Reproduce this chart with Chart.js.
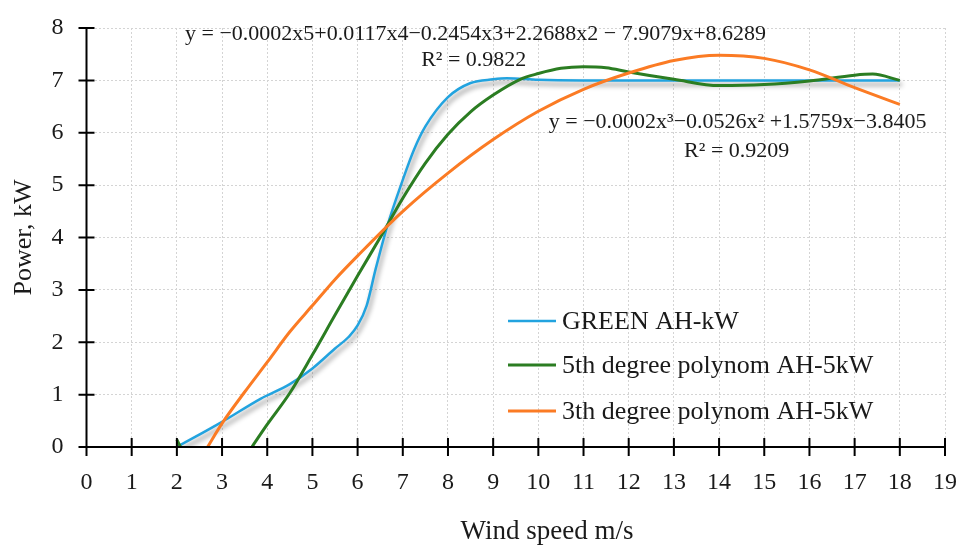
<!DOCTYPE html>
<html>
<head>
<meta charset="utf-8">
<script src="https://cdn.jsdelivr.net/npm/chart.js@4"></script>
<style>
  html, body { margin: 0; padding: 0; background: #fff; }
  #box { width: 965px; height: 545px; }
</style>
</head>
<body>
<div id="box"><canvas id="potencia"></canvas></div>
<script>
// measured power curve
const xGreen = [2, 3, 3.85, 4.5, 5, 5.5, 5.8, 6, 6.2, 6.4, 6.65, 7, 7.25, 7.5, 8, 8.5, 9, 9.3, 10, 11, 12, 13, 14, 15, 16, 17, 18];
const yGreen = [0, 0.48, 0.92, 1.2, 1.5, 1.88, 2.1, 2.32, 2.7, 3.4, 4.2, 5.1, 5.68, 6.12, 6.68, 6.95, 7.02, 7.04, 7.01, 7, 7, 7, 7, 7, 7, 7, 7];

// 5th degree fit (null = below zero, hidden)
const xPoly5 = [2, 2.08, 2.5, 3.66, 4, 4.5, 5, 5.5, 6, 6.5, 7, 7.5, 8, 8.5, 9, 9.6, 10, 10.5, 11, 11.5, 12, 13, 14, 15, 16, 17, 17.4, 18];
const yPoly5 = [0.14, 0, null, 0, 0.43, 1.03, 1.76, 2.52, 3.27, 4.0, 4.75, 5.42, 5.97, 6.4, 6.72, 7.02, 7.13, 7.23, 7.26, 7.24, 7.16, 7.02, 6.9, 6.92, 6.99, 7.1, 7.12, 7.0];

// 3rd degree fit
const xPoly3 = [2.68, 3, 3.5, 4, 4.5, 5, 5.5, 6, 7, 8, 9, 10, 11, 12, 13, 14, 15, 16, 17, 18];
const yPoly3 = [0, 0.45, 1.05, 1.62, 2.2, 2.7, 3.2, 3.65, 4.5, 5.23, 5.87, 6.41, 6.83, 7.14, 7.38, 7.48, 7.42, 7.2, 6.86, 6.54];

const seriesNames = ["GREEN AH-kW", "5th degree polynom AH-5kW", "3th degree polynom AH-5kW"];
const xTicks = [0, 19];
const yTicks = [0, 8];

const eq5 = ["y = \u22120.0002x5+0.0117x4\u22120.2454x3+2.2688x2 \u2212 7.9079x+8.6289", "R\u00b2 = 0.9822"];
const eq3 = ["y = \u22120.0002x\u00b3\u22120.0526x\u00b2 +1.5759x\u22123.8405", "R\u00b2 = 0.9209"];
const xTitle = "Wind speed m/s";
const yTitle = "Power, kW";

const serif = "'Liberation Serif', 'Times New Roman', serif";
const ink = "#1a1a1a";

function pts(xs, ys) {
  return xs.map((x, i) => ({ x: x, y: ys[i] }));
}

// excel-like drop shadow under the measured curve
const sombra = {
  id: "sombra",
  beforeDatasetDraw(chart, args) {
    if (args.index !== 0) return;
    const ctx = chart.ctx;
    ctx.save();
    ctx.shadowColor = "rgba(0,0,0,0.45)";
    ctx.shadowBlur = 5;
    ctx.shadowOffsetX = 2;
    ctx.shadowOffsetY = 4;
  },
  afterDatasetDraw(chart, args) {
    if (args.index !== 0) return;
    chart.ctx.restore();
  }
};

// black axes with ticks crossing the line
const ejes = {
  id: "ejes",
  afterDraw(chart) {
    const ctx = chart.ctx;
    const { left, right, top, bottom } = chart.chartArea;
    const sx = chart.scales.x, sy = chart.scales.y;
    ctx.save();
    ctx.strokeStyle = "#000";
    ctx.lineWidth = 2;
    ctx.beginPath();
    ctx.moveTo(left, top);
    ctx.lineTo(left, bottom);
    ctx.moveTo(left, bottom);
    ctx.lineTo(right, bottom);
    sy.ticks.forEach(t => {
      const y = sy.getPixelForValue(t.value);
      ctx.moveTo(left - 8, y);
      ctx.lineTo(left + 8, y);
    });
    sx.ticks.forEach(t => {
      const x = sx.getPixelForValue(t.value);
      ctx.moveTo(x, bottom - 9);
      ctx.lineTo(x, bottom + 9);
    });
    ctx.stroke();
    ctx.restore();
  }
};

// trend equations, legend box and x title
const textos = {
  id: "textos",
  afterDraw(chart) {
    const ctx = chart.ctx;
    const sx = chart.scales.x, sy = chart.scales.y;
    ctx.save();
    ctx.fillStyle = ink;
    ctx.textAlign = "center";
    ctx.textBaseline = "alphabetic";
    ctx.font = "22px " + serif;
    ctx.fillText(eq5[0], sx.getPixelForValue(8.61), sy.getPixelForValue(7.77));
    ctx.fillText(eq5[1], sx.getPixelForValue(8.57), sy.getPixelForValue(7.27));
    ctx.fillText(eq3[0], sx.getPixelForValue(14.41), sy.getPixelForValue(6.09));
    ctx.fillText(eq3[1], sx.getPixelForValue(14.39), sy.getPixelForValue(5.54));

    // legend
    ctx.font = "26px " + serif;
    ctx.textAlign = "left";
    ctx.textBaseline = "middle";
    const lx = 508, rows = [321, 365, 411];
    chart.data.datasets.forEach((ds, i) => {
      ctx.strokeStyle = ds.borderColor;
      ctx.lineWidth = ds.borderWidth;
      ctx.beginPath();
      ctx.moveTo(lx, rows[i]);
      ctx.lineTo(lx + 48, rows[i]);
      ctx.stroke();
      ctx.fillStyle = ink;
      ctx.fillText(ds.label, lx + 54, rows[i] + 1);
    });

    ctx.font = "27px " + serif;
    ctx.textAlign = "center";
    ctx.textBaseline = "alphabetic";
    ctx.fillText(xTitle, 547, 539);
    ctx.restore();
  }
};

new Chart(document.getElementById("potencia"), {
  type: "scatter",
  data: {
    datasets: [
      {
        label: seriesNames[0],
        data: pts(xGreen, yGreen),
        borderColor: "#22a3df",
        borderWidth: 2.5,
        order: 3
      },
      {
        label: seriesNames[1],
        data: pts(xPoly5, yPoly5),
        borderColor: "#2b7d22",
        borderWidth: 3,
        order: 2
      },
      {
        label: seriesNames[2],
        data: pts(xPoly3, yPoly3),
        borderColor: "#fb7b24",
        borderWidth: 3,
        order: 1
      }
    ]
  },
  options: {
    responsive: true,
    maintainAspectRatio: false,
    animation: false,
    showLine: true,
    spanGaps: false,
    elements: {
      point: { radius: 0, hoverRadius: 0 },
      line: { cubicInterpolationMode: "monotone", fill: false }
    },
    layout: { padding: { left: 0, right: 20, top: 28, bottom: 0 } },
    plugins: {
      legend: { display: false },
      tooltip: { enabled: false }
    },
    scales: {
      x: {
        type: "linear",
        min: xTicks[0],
        max: xTicks[1],
        // fixed band under the plot, no extra side padding for the labels
        afterFit: s => { s.height = 98; s.paddingLeft = 0; s.paddingRight = 0; },
        ticks: { stepSize: 1, padding: 21, color: ink, font: { family: serif, size: 24 } },
        grid: { color: "#d4d4d4", drawTicks: false },
        border: { display: false, dash: [2, 2] }
      },
      y: {
        min: yTicks[0],
        max: yTicks[1],
        afterFit: s => { s.width = 86.5; s.paddingTop = 0; s.paddingBottom = 0; },
        ticks: { stepSize: 1, padding: 23, color: ink, font: { family: serif, size: 24 } },
        grid: { color: "#d4d4d4", drawTicks: false },
        border: { display: false, dash: [2, 2] },
        title: {
          display: true,
          text: yTitle,
          color: ink,
          font: { family: serif, size: 26 },
          padding: { top: 9, bottom: 0 }
        }
      }
    }
  },
  plugins: [sombra, ejes, textos]
});
</script>
</body>
</html>
